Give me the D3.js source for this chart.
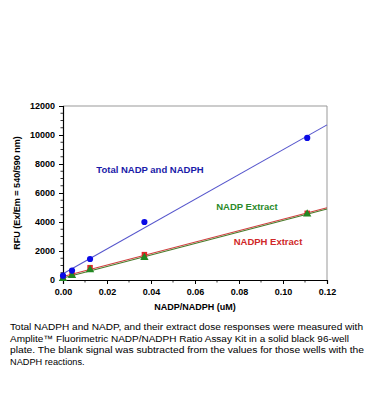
<!DOCTYPE html>
<html><head><meta charset="utf-8">
<script src="https://cdn.jsdelivr.net/npm/d3@7"></script>
<style>body{margin:0;background:#fff;}svg{display:block;font-family:"Liberation Sans",Arial,sans-serif;}</style>
</head><body>
<svg id="c" width="370" height="420"></svg>
<script>
const conc = [0, 0.0041, 0.0123, 0.037, 0.111];
const totalRFU = [300, 650, 1450, 4000, 9800];
const nadpExtractRFU = [100, 300, 700, 1550, 4550];
const nadphExtractRFU = [150, 350, 850, 1750, 4600];
const xTicks = [0, 0.02, 0.04, 0.06, 0.08, 0.10, 0.12];
const yTicks = [0, 2000, 4000, 6000, 8000, 10000, 12000];
const seriesNames = ["Total NADP and NADPH", "NADP Extract", "NADPH Extract"];
const captionLines = [
  "Total NADPH and NADP, and their extract dose responses were measured with",
  "Amplite\u2122 Fluorimetric NADP/NADPH Ratio Assay Kit in a solid black 96-well",
  "plate. The blank signal was subtracted from the values for those wells with the",
  "NADPH reactions."
];

const svg = d3.select("#c");
const L = 63, R = 327, T = 106, B = 280;
const x = d3.scaleLinear().domain([0, 0.12]).range([L, R]);
const y = d3.scaleLinear().domain([0, 12000]).range([B, T]);

function fit(xs, ys) {
  const mx = d3.mean(xs), my = d3.mean(ys);
  let sxy = 0, sxx = 0;
  xs.forEach((v, i) => { sxy += (v - mx) * (ys[i] - my); sxx += (v - mx) * (v - mx); });
  const b = sxy / sxx;
  return { b, a: my - b * mx };
}

// frame
svg.append("line").attr("x1", L).attr("x2", R).attr("y1", T).attr("y2", T).attr("stroke", "#999").attr("stroke-width", 1);
svg.append("line").attr("x1", R).attr("x2", R).attr("y1", T).attr("y2", B).attr("stroke", "#999").attr("stroke-width", 1);

// minor ticks
const yMinor = d3.range(0, 12001, 500).filter(v => v % 2000 !== 0);
svg.append("g").selectAll("line").data(yMinor).join("line")
  .attr("x1", L - 2.5).attr("x2", L).attr("y1", d => y(d)).attr("y2", d => y(d)).attr("stroke", "#000").attr("stroke-width", 0.8);
const xMinor = d3.range(0.01, 0.12, 0.02);
svg.append("g").selectAll("line").data(xMinor).join("line")
  .attr("x1", d => x(d)).attr("x2", d => x(d)).attr("y1", B).attr("y2", B + 2.5).attr("stroke", "#000").attr("stroke-width", 0.8);

const xa = svg.append("g").attr("transform", `translate(0,${B})`)
  .call(d3.axisBottom(x).tickValues(xTicks).tickFormat(d3.format(".2f")).tickSizeOuter(0).tickSize(4));
const ya = svg.append("g").attr("transform", `translate(${L},0)`)
  .call(d3.axisLeft(y).tickValues(yTicks).tickFormat(d => d).tickSizeOuter(0).tickSize(4));
[xa, ya].forEach(g => {
  g.select(".domain").attr("stroke", "#000").attr("stroke-width", 1.2);
  g.selectAll(".tick line").attr("stroke", "#000");
  g.selectAll("text").attr("font-family", "Liberation Sans, Arial, sans-serif").attr("font-size", 9).attr("font-weight", "bold").attr("fill", "#000");
});
xa.selectAll("text").attr("dy", "0.85em");
ya.selectAll("text").attr("dx", "-0.1em");

svg.append("text").attr("x", 195).attr("y", 310).attr("text-anchor", "middle")
  .attr("font-size", 9).attr("font-weight", "bold").text("NADP/NADPH (uM)");
svg.append("text").attr("transform", "translate(20,193) rotate(-90)").attr("text-anchor", "middle")
  .attr("font-size", 9).attr("font-weight", "bold").text("RFU (Ex/Em = 540/590 nm)");

// fit lines
const series = [
  { ys: nadphExtractRFU, line: "#d04040", mark: "#e02828", type: "square" },
  { ys: nadpExtractRFU, line: "#4a7a2a", mark: "#228822", type: "triangle" },
  { ys: totalRFU, line: "#5555cc", mark: "#0a0ae6", type: "circle" }
];
series.forEach(s => {
  const f = fit(conc, s.ys);
  svg.append("line").attr("x1", x(0)).attr("y1", y(f.a)).attr("x2", x(0.12)).attr("y2", y(f.a + f.b * 0.12))
    .attr("stroke", s.line).attr("stroke-width", 1.1);
});
// points
series.forEach(s => {
  const pts = conc.map((c, i) => [x(c), y(s.ys[i])]);
  const sym = s.type === "circle" ? d3.symbolCircle : s.type === "square" ? d3.symbolSquare : d3.symbolTriangle;
  svg.append("g").selectAll("path").data(pts).join("path")
    .attr("transform", d => `translate(${d[0]},${d[1]})`)
    .attr("d", d3.symbol().type(sym).size(30)).attr("fill", s.mark);
});

svg.append("text").attr("x", 150).attr("y", 173).attr("text-anchor", "middle").attr("font-size", 9.5)
  .attr("font-weight", "bold").attr("fill", "#1a1aa8").text(seriesNames[0]);
svg.append("text").attr("x", 247).attr("y", 210).attr("text-anchor", "middle").attr("font-size", 9.5)
  .attr("font-weight", "bold").attr("fill", "#2a8a2a").text(seriesNames[1]);
svg.append("text").attr("x", 268).attr("y", 245).attr("text-anchor", "middle").attr("font-size", 9.5)
  .attr("font-weight", "bold").attr("fill", "#d02828").text(seriesNames[2]);

const lens = [353, 339, 354, null];
captionLines.forEach((t, i) => {
  const el = svg.append("text").attr("x", 10).attr("y", 330 + i * 11.7).attr("font-size", 9.2).attr("fill", "#000").text(t);
  if (lens[i]) el.attr("textLength", lens[i]).attr("lengthAdjust", "spacingAndGlyphs");
});
</script>
</body></html>
